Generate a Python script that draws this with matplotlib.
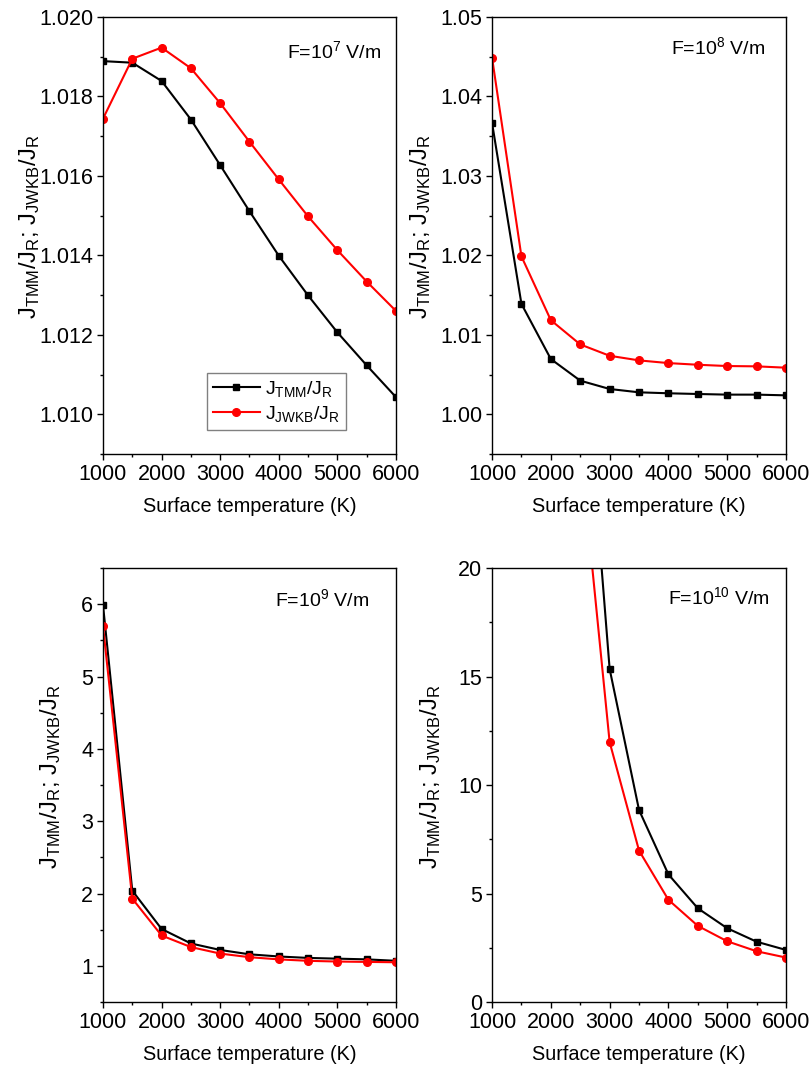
import matplotlib
matplotlib.use("Agg")
import matplotlib.pyplot as plt
from matplotlib.ticker import MultipleLocator

plt.rcParams['font.family'] = ['Liberation Sans', 'DejaVu Sans']
plt.rcParams['mathtext.default'] = 'regular'

# surface temperature (K)
temps = [1000, 1500, 2000, 2500, 3000, 3500, 4000, 4500, 5000, 5500, 6000]

# F = 1e7 V/m
tmm_7 = [1.01889, 1.01885, 1.01839, 1.01742, 1.01627, 1.01511, 1.01399,
         1.01299, 1.01206, 1.01123, 1.01043]
jwkb_7 = [1.01744, 1.01895, 1.01923, 1.01871, 1.01783, 1.01686, 1.01591,
          1.01498, 1.01413, 1.01334, 1.01260]

# F = 1e8 V/m
tmm_8 = [1.03669, 1.01389, 1.00695, 1.00423, 1.00318, 1.00276, 1.00264,
         1.00255, 1.00247, 1.00247, 1.00238]
jwkb_8 = [1.0449, 1.01987, 1.01184, 1.00879, 1.00736, 1.00678, 1.00644,
          1.00623, 1.00607, 1.00603, 1.00586]

# F = 1e9 V/m
tmm_9 = [5.99, 2.04, 1.51, 1.31, 1.22, 1.16, 1.13, 1.11, 1.10, 1.09, 1.07]
jwkb_9 = [5.70, 1.93, 1.42, 1.26, 1.17, 1.12, 1.09, 1.07, 1.06, 1.055, 1.05]

# F = 1e10 V/m (values below 2500 K are far off scale)
temps_10 = [2500, 3000, 3500, 4000, 4500, 5000, 5500, 6000]
tmm_10 = [32.4, 15.35, 8.85, 5.88, 4.32, 3.40, 2.78, 2.40]
jwkb_10 = [25.6, 11.98, 6.98, 4.71, 3.51, 2.80, 2.34, 2.05]

panels = [
    # x, y_tmm, y_jwkb, ylim, major, minor, label, label pos, ylabel x, fmt
    (temps, tmm_7, jwkb_7, (1.009, 1.020), 0.002, 0.001, r'F=10$^7$ V/m', (0.628, 0.922), -0.208, '%.3f'),
    (temps, tmm_8, jwkb_8, (0.995, 1.05), 0.01, 0.005, r'F=10$^8$ V/m', (0.609, 0.930), -0.20, '%.2f'),
    (temps, tmm_9, jwkb_9, (0.5, 6.5), 1, 0.5, r'F=10$^9$ V/m', (0.587, 0.929), -0.137, '%d'),
    (temps_10, tmm_10, jwkb_10, (0, 20), 5, 2.5, r'F=10$^{10}$ V/m', (0.599, 0.933), -0.167, '%d'),
]

axes_rects = [
    [0.1273, 0.5812, 0.3622, 0.4031],
    [0.6082, 0.5812, 0.3634, 0.4031],
    [0.1273, 0.0756, 0.3622, 0.4004],
    [0.6082, 0.0756, 0.3634, 0.4004],
]

fig = plt.figure(figsize=(8.09, 10.84), dpi=100)

for i, (x, y1, y2, ylim, major, minor, label, lpos, labx, fmt) in enumerate(panels):
    ax = fig.add_axes(axes_rects[i])
    ax.plot(x, y1, color='black', marker='s', markersize=5, lw=1.5,
            label=r'J$_{TMM}$/J$_R$')
    ax.plot(x, y2, color='red', marker='o', markersize=5.5, lw=1.5,
            label=r'J$_{JWKB}$/J$_R$')
    ax.set_xlim(1000, 6000)
    ax.set_ylim(*ylim)
    ax.xaxis.set_major_locator(MultipleLocator(1000))
    ax.xaxis.set_minor_locator(MultipleLocator(500))
    ax.yaxis.set_major_locator(MultipleLocator(major))
    ax.yaxis.set_minor_locator(MultipleLocator(minor))
    ax.yaxis.set_major_formatter(plt.FormatStrFormatter(fmt))
    ax.tick_params(which='major', direction='out', length=4, width=1,
                   labelsize=15.5, pad=3)
    ax.tick_params(which='minor', direction='out', length=2.5, width=1)
    for s in ax.spines.values():
        s.set_linewidth(1.0)
    ax.set_xlabel('Surface temperature (K)', fontsize=14.3, labelpad=9)
    ax.set_ylabel(r'J$_{TMM}$/J$_R$; J$_{JWKB}$/J$_R$', fontsize=17)
    ax.yaxis.set_label_coords(labx, 0.52)
    ax.text(lpos[0], lpos[1], label, transform=ax.transAxes, fontsize=14,
            ha='left', va='center')
    if i == 0:
        leg = ax.legend(loc='lower left', bbox_to_anchor=(0.355, 0.055),
                        fontsize=14, fancybox=False, framealpha=1,
                        edgecolor='gray', handlelength=2.4, handletextpad=0.3,
                        borderaxespad=0, borderpad=0.3, labelspacing=0.25)
        leg.get_frame().set_linewidth(1.0)

plt.savefig('out.png', dpi=100)
